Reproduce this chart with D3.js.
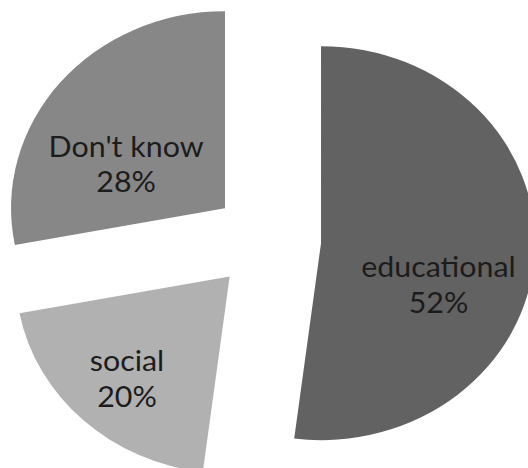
<!DOCTYPE html>
<html>
<head>
<meta charset="utf-8">
<script src="https://cdn.jsdelivr.net/npm/d3@7/dist/d3.min.js"></script>
<style>
  html, body { margin: 0; padding: 0; background: #ffffff; }
  svg { display: block; }
</style>
</head>
<body>
<svg id="chart" width="528" height="468"></svg>
<script>
// Survey answers, clockwise from 12 o'clock
const categories = ["educational", "social", "Don't know"];
const shares = [52, 20, 28];
const percentLabels = ["52%", "20%", "28%"];
const sliceColors = ["#626262", "#b1b1b1", "#878787"];

// Layout
const width = 528, height = 468;
const radius = 197;
const explode = 50;          // every slice is pulled out along its bisector
const stretchX = 1.086;      // the pie is drawn slightly wider than tall
const center = { x: 245.7, y: 240 };

// Where each label block sits inside its slice: fraction of the slice's sweep and distance from the tip
const labelPlacement = {
  "educational": { t: 0.618, r: 120 },
  "social":      { t: 0.456, r: 147 },
  "Don't know":  { t: 0.307, r: 97 }
};

const svg = d3.select("#chart");

const pie = d3.pie()
  .sort(null)
  .value(d => d.value)
  .startAngle(0)
  .endAngle(2 * Math.PI);

const data = categories.map((c, i) => ({
  name: c, value: shares[i], label: percentLabels[i], color: sliceColors[i]
}));
const arcs = pie(data);

const arc = d3.arc().innerRadius(0).outerRadius(radius);

const root = svg.append("g")
  .attr("transform", `translate(${center.x * stretchX},${center.y}) scale(${stretchX},1)`);

const polar = (angle, r) => [r * Math.sin(angle), -r * Math.cos(angle)];

const slice = root.selectAll("g.slice")
  .data(arcs)
  .enter()
  .append("g")
  .attr("class", "slice")
  .attr("transform", d => {
    const mid = (d.startAngle + d.endAngle) / 2;
    const [dx, dy] = polar(mid, explode);
    return `translate(${dx},${dy})`;
  });

slice.append("path")
  .attr("d", arc)
  .attr("fill", d => d.data.color);

const lineGap = 35.5;
const label = slice.append("text")
  .attr("text-anchor", "middle")
  .attr("font-family", "Lato, 'Noto Sans', sans-serif")
  .attr("font-size", 28)
  .attr("fill", "#1c1c1c")
  .attr("transform", d => {
    const p = labelPlacement[d.data.name];
    const a = d.startAngle + p.t * (d.endAngle - d.startAngle);
    const [x, y] = polar(a, p.r);
    return `translate(${x},${y})`;
  });

label.append("tspan")
  .attr("x", 0)
  .attr("y", -lineGap / 2)
  .text(d => d.data.name);

label.append("tspan")
  .attr("x", 0)
  .attr("y", lineGap / 2)
  .text(d => d.data.label);
</script>
</body>
</html>
